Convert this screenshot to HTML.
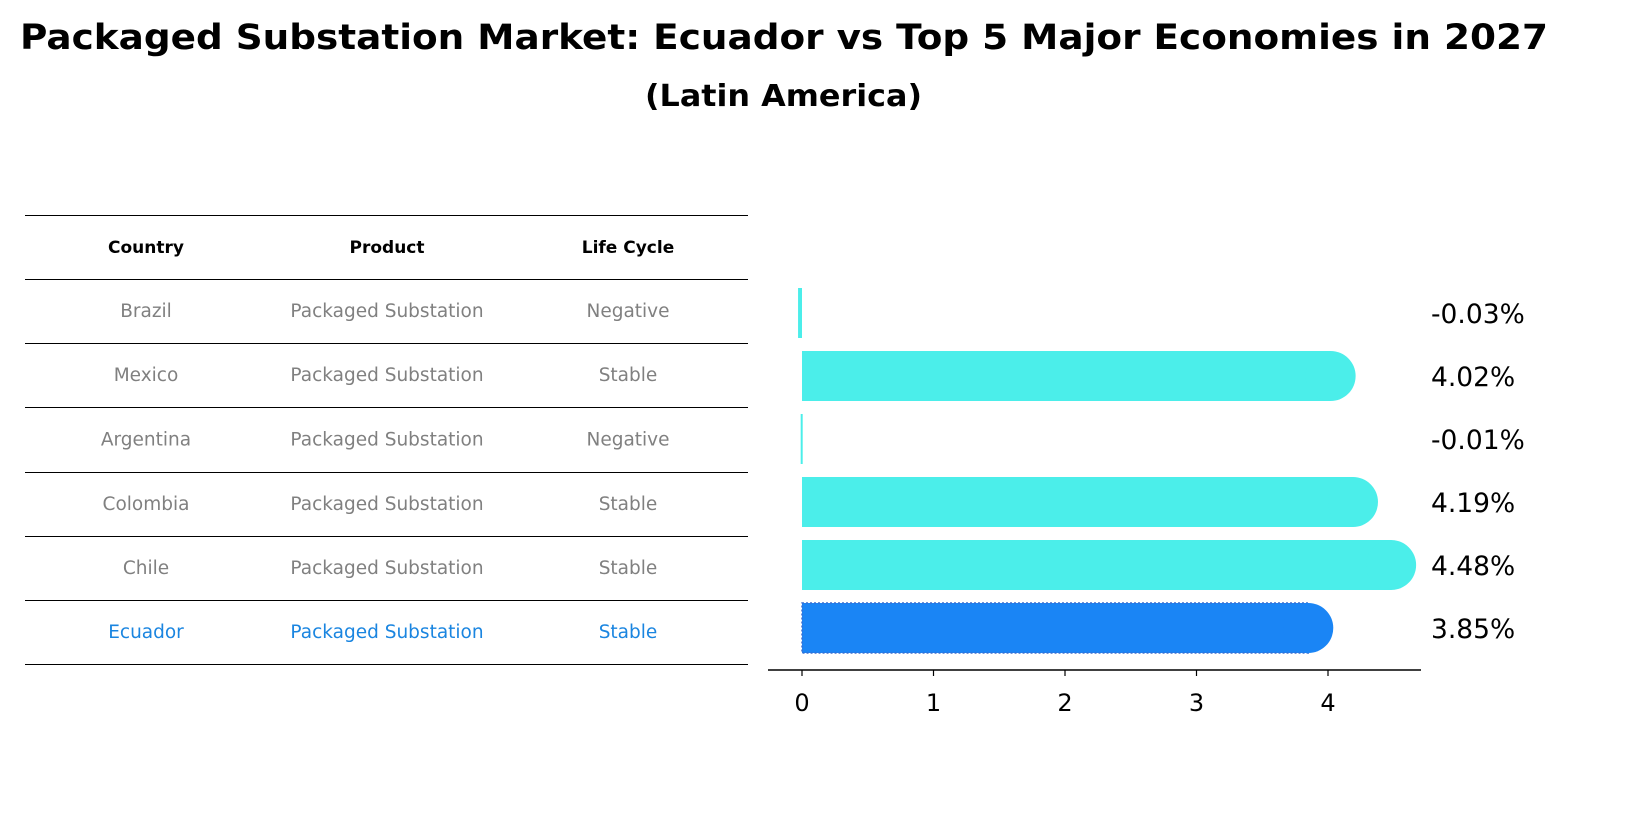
<!DOCTYPE html>
<html><head><meta charset="utf-8"><style>
body{margin:0;background:#fff;font-family:"Liberation Sans","DejaVu Sans",sans-serif}
</style></head><body>
<svg width="1627" height="823" viewBox="0 0 1627 823" xmlns="http://www.w3.org/2000/svg" font-family="DejaVu Sans, Liberation Sans, sans-serif">
<text x="20" y="49" font-size="35" font-weight="bold" textLength="1528" lengthAdjust="spacingAndGlyphs">Packaged Substation Market: Ecuador vs Top 5 Major Economies in 2027</text>
<text x="645" y="106" font-size="30" font-weight="bold" textLength="277" lengthAdjust="spacingAndGlyphs">(Latin America)</text>
<g id="table"></g>
<g id="chart"></g>
</svg>
<script>
const countries=["Brazil","Mexico","Argentina","Colombia","Chile","Ecuador"];
const products=["Packaged Substation","Packaged Substation","Packaged Substation","Packaged Substation","Packaged Substation","Packaged Substation"];
const lifecycles=["Negative","Stable","Negative","Stable","Stable","Stable"];
const values=[-0.03,4.02,-0.01,4.19,4.48,3.85];
const valueLabels=["-0.03%","4.02%","-0.01%","4.19%","4.48%","3.85%"];
const ticks=[0,1,2,3,4];
const NS="http://www.w3.org/2000/svg";
function mk(t,a,p){const e=document.createElementNS(NS,t);for(const k in a)e.setAttribute(k,a[k]);p.appendChild(e);return e;}
const tbl=document.getElementById('table');
const lineYs=[215,279,343,407,472,536,600,664];
lineYs.forEach(y=>{const l=mk('line',{x1:25,x2:748,y1:y+0.5,y2:y+0.5,stroke:'#000','stroke-width':1,'shape-rendering':'crispEdges'},tbl);

});
const colX=[146,387,628];
["Country","Product","Life Cycle"].forEach((h,i)=>{const t=mk('text',{x:colX[i],y:253,'text-anchor':'middle','font-size':17,'font-weight':'bold'},tbl);t.textContent=h;

});
countries.forEach((c,r)=>{const y=(lineYs[r+1]+lineYs[r+2])/2+6;const col=c==="Ecuador"?"#1a85e0":"#808080";
[c,products[r],lifecycles[r]].forEach((v,i)=>{const t=mk('text',{x:colX[i],y:y,'text-anchor':'middle','font-size':18.5,fill:col},tbl);t.textContent=v;

});});
const ch=document.getElementById('chart');
const x0=802,ppu=131.5;const xs=v=>x0+v*ppu;
const rowY=i=>313+i*63;const bh=50,rad=25;
values.forEach((v,i)=>{const y=rowY(i);const col=countries[i]==="Ecuador"?"#1a85f5":"#4beeea";
const g=mk('g',{},ch);


if(Math.abs(v)<0.1){mk('rect',{x:Math.min(xs(v),x0),y:y-bh/2,width:Math.max(2,Math.abs(xs(v)-x0)),height:bh,fill:col},g);}
else{const e=xs(v);mk('rect',{x:x0,y:y-bh/2,width:e-x0,height:bh,fill:col,stroke:countries[i]==="Ecuador"?"#3a6ed0":"none",'stroke-dasharray':'2,2','stroke-width':1.5},g);
mk('circle',{cx:e,cy:y,r:rad,fill:col},g);}
const t=mk('text',{x:1431,y:y+10,'font-size':26.5},ch);t.textContent=valueLabels[i];

});
const ax=mk('line',{x1:768,x2:1421,y1:670,y2:670,stroke:'#000','stroke-width':1.5},ch);


ticks.forEach(t=>{const x=xs(t);mk('line',{x1:x,x2:x,y1:670,y2:676,stroke:'#000','stroke-width':1.2},ch);
const tx=mk('text',{x:x,y:711,'text-anchor':'middle','font-size':24},ch);tx.textContent=t;

});
</script>
</body></html>
